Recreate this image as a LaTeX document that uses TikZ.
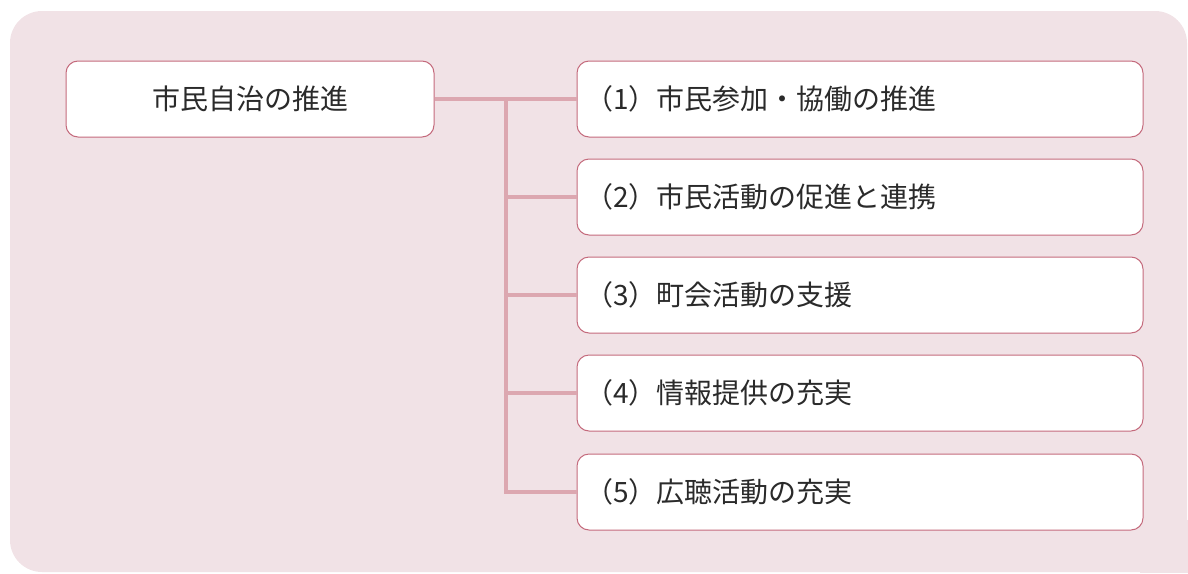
\documentclass[tikz,border=0pt]{standalone}
\usepackage{fontspec}
\setmainfont{Noto Sans CJK JP}
\definecolor{bgpink}{HTML}{F1E2E6}
\definecolor{boxline}{HTML}{C46A7C}
\definecolor{conn}{HTML}{DCA7B0}
\definecolor{txt}{HTML}{2A2A2A}
\begin{document}
\begin{tikzpicture}[x=1pt,y=-1pt,
  box/.style={draw=boxline, line width=1pt, fill=white, rounded corners=12pt,
    minimum height=76pt, inner sep=0pt, text=txt,
    font=\fontsize{28}{34}\selectfont},
  rootbox/.style={box, minimum width=368pt},
  itembox/.style={box, minimum width=566pt, text width=550pt, align=left},
  link/.style={draw=conn, line width=4pt}]
\useasboundingbox (0,0) rectangle (1188,573);
\fill[bgpink, rounded corners=32pt] (10,11) rectangle (1187,572);
\fill[bgpink] (1140,520) rectangle (1188,573);
\node[rootbox] (root) at (250,99) {市民自治の推進};
\node[itembox] (b1) at (860,99) {（1）市民参加・協働の推進};
\node[itembox] (b2) at (860,197) {（2）市民活動の促進と連携};
\node[itembox] (b3) at (860,295) {（3）町会活動の支援};
\node[itembox] (b4) at (860,393) {（4）情報提供の充実};
\node[itembox] (b5) at (860,492) {（5）広聴活動の充実};
\coordinate (j) at (506,99);
\draw[link] (root.east) -- (b1.west);
\draw[link] (j) |- (b5.west);
\draw[link] (j |- b2.west) -- (b2.west);
\draw[link] (j |- b3.west) -- (b3.west);
\draw[link] (j |- b4.west) -- (b4.west);
\end{tikzpicture}
\end{document}
